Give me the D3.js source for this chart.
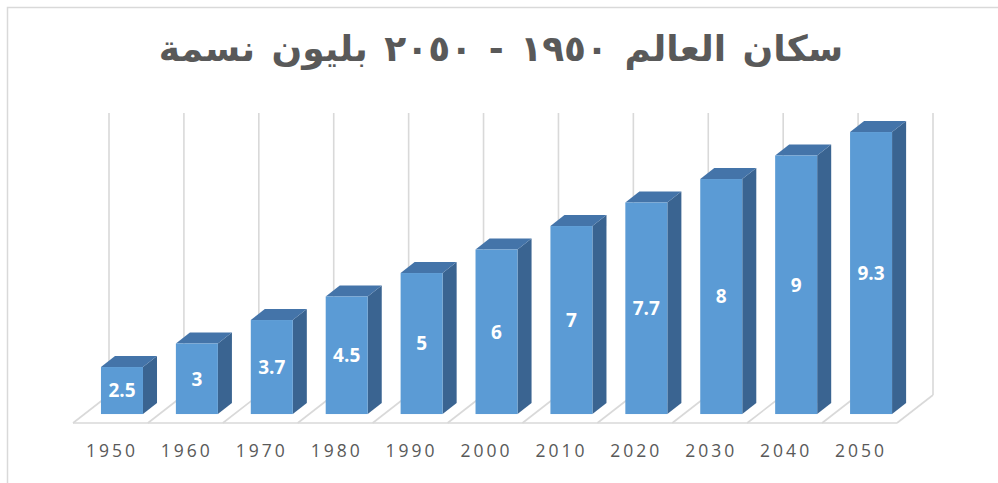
<!DOCTYPE html>
<html>
<head>
<meta charset="utf-8">
<script src="https://cdn.jsdelivr.net/npm/d3@7/dist/d3.min.js"></script>
<style>
  html, body { margin: 0; padding: 0; background: #ffffff; }
  svg { display: block; }
</style>
</head>
<body>
<svg id="chart" width="998" height="483"></svg>
<script>
// ---- data ----
const chartTitle = "سكان العالم ١٩٥٠ - ٢٠٥٠ بليون نسمة";
const years = [1950, 1960, 1970, 1980, 1990, 2000, 2010, 2020, 2030, 2040, 2050];
const populationLabels = ["2.5", "3", "3.7", "4.5", "5", "6", "7", "7.7", "8", "9", "9.3"];
// the original chart plots the year column as the bar height (labels show population)
const barValues = [1950, 1960, 1970, 1980, 1990, 2000, 2010, 2020, 2030, 2040, 2050];
const valueDomain = [1930, 2050];

// ---- layout ----
const svg = d3.select("#chart");
const floorFrontY = 423, floorLeft = 73, floorRight = 897;
const depth = { dx: 36, dy: -28 };          // full floor depth vector
const barDepthStart = 0.32, barDepthSize = 0.39;
const barWidth = 42;
const wallHeight = 282;

const x = d3.scaleBand().domain(years).range([floorLeft, floorRight]).padding(0);
const h = d3.scaleLinear().domain(valueDomain).range([0, wallHeight]);

const grid = "#d9d9d9";

// outer chart border
svg.append("rect").attr("x", 7.5).attr("y", 7.5).attr("width", 1000).attr("height", 1000)
  .attr("fill", "none").attr("stroke", grid).attr("stroke-width", 1.5);

// title
svg.append("text")
  .attr("x", 501).attr("y", 61)
  .attr("text-anchor", "middle")
  .attr("direction", "rtl")
  .attr("font-family", "'DejaVu Sans',sans-serif")
  .attr("font-weight", "bold")
  .attr("font-size", 36)
  .attr("word-spacing", 4)
  .attr("fill", "#595959")
  .text(chartTitle);

// back wall vertical gridlines (category separators)
const boundaries = d3.range(years.length + 1).map(k => floorLeft + k * x.bandwidth());
const backBottom = floorFrontY + depth.dy;
svg.append("g").selectAll("line").data(boundaries).join("line")
  .attr("x1", d => d + depth.dx).attr("x2", d => d + depth.dx)
  .attr("y1", backBottom).attr("y2", backBottom - wallHeight)
  .attr("stroke", grid).attr("stroke-width", 1.6);

// floor
const floor = svg.append("g").attr("stroke", grid).attr("stroke-width", 1.6).attr("fill", "none");
floor.append("line").attr("x1", floorLeft).attr("x2", floorRight)
  .attr("y1", floorFrontY).attr("y2", floorFrontY);
floor.selectAll("line.div").data(boundaries).join("line").attr("class", "div")
  .attr("x1", d => d).attr("y1", floorFrontY)
  .attr("x2", d => d + depth.dx).attr("y2", floorFrontY + depth.dy);

// bars
const bdx = depth.dx * barDepthSize, bdy = depth.dy * barDepthSize;
const bars = svg.append("g").selectAll("g").data(years.map((y, i) => ({ y, v: barValues[i], label: populationLabels[i] })))
  .join("g");

bars.each(function(d) {
  const g = d3.select(this);
  const x0 = x(d.y) + depth.dx * barDepthStart + (x.bandwidth() - barWidth) / 2;
  const y0 = floorFrontY + depth.dy * barDepthStart;
  const top = y0 - h(d.v);
  const x1 = x0 + barWidth;
  // side face
  g.append("path")
    .attr("d", `M${x1},${y0} L${x1 + bdx},${y0 + bdy} L${x1 + bdx},${top + bdy} L${x1},${top} Z`)
    .attr("fill", "#3a6491");
  // top face
  g.append("path")
    .attr("d", `M${x0},${top} L${x1},${top} L${x1 + bdx},${top + bdy} L${x0 + bdx},${top + bdy} Z`)
    .attr("fill", "#4474a9");
  // front face
  g.append("rect").attr("x", x0).attr("y", top).attr("width", barWidth).attr("height", y0 - top)
    .attr("fill", "#5b9bd5");
  // data label
  g.append("text")
    .attr("x", x0 + barWidth / 2).attr("y", (top + y0) / 2)
    .attr("dy", "0.36em")
    .attr("text-anchor", "middle")
    .attr("font-family", "'Open Sans',sans-serif")
    .attr("font-weight", "bold")
    .attr("font-size", 19)
    .attr("fill", "#ffffff")
    .text(d.label);
});

// category axis labels
const ls = 3;
svg.append("g").selectAll("text").data(years).join("text")
  .attr("x", d => x(d) + x.bandwidth() / 2 + ls / 2)
  .attr("y", 457)
  .attr("text-anchor", "middle")
  .attr("font-family", "'Open Sans',sans-serif")
  .attr("font-size", 17.5)
  .attr("letter-spacing", ls)
  .attr("fill", "#595959")
  .text(d => d);
</script>
</body>
</html>
